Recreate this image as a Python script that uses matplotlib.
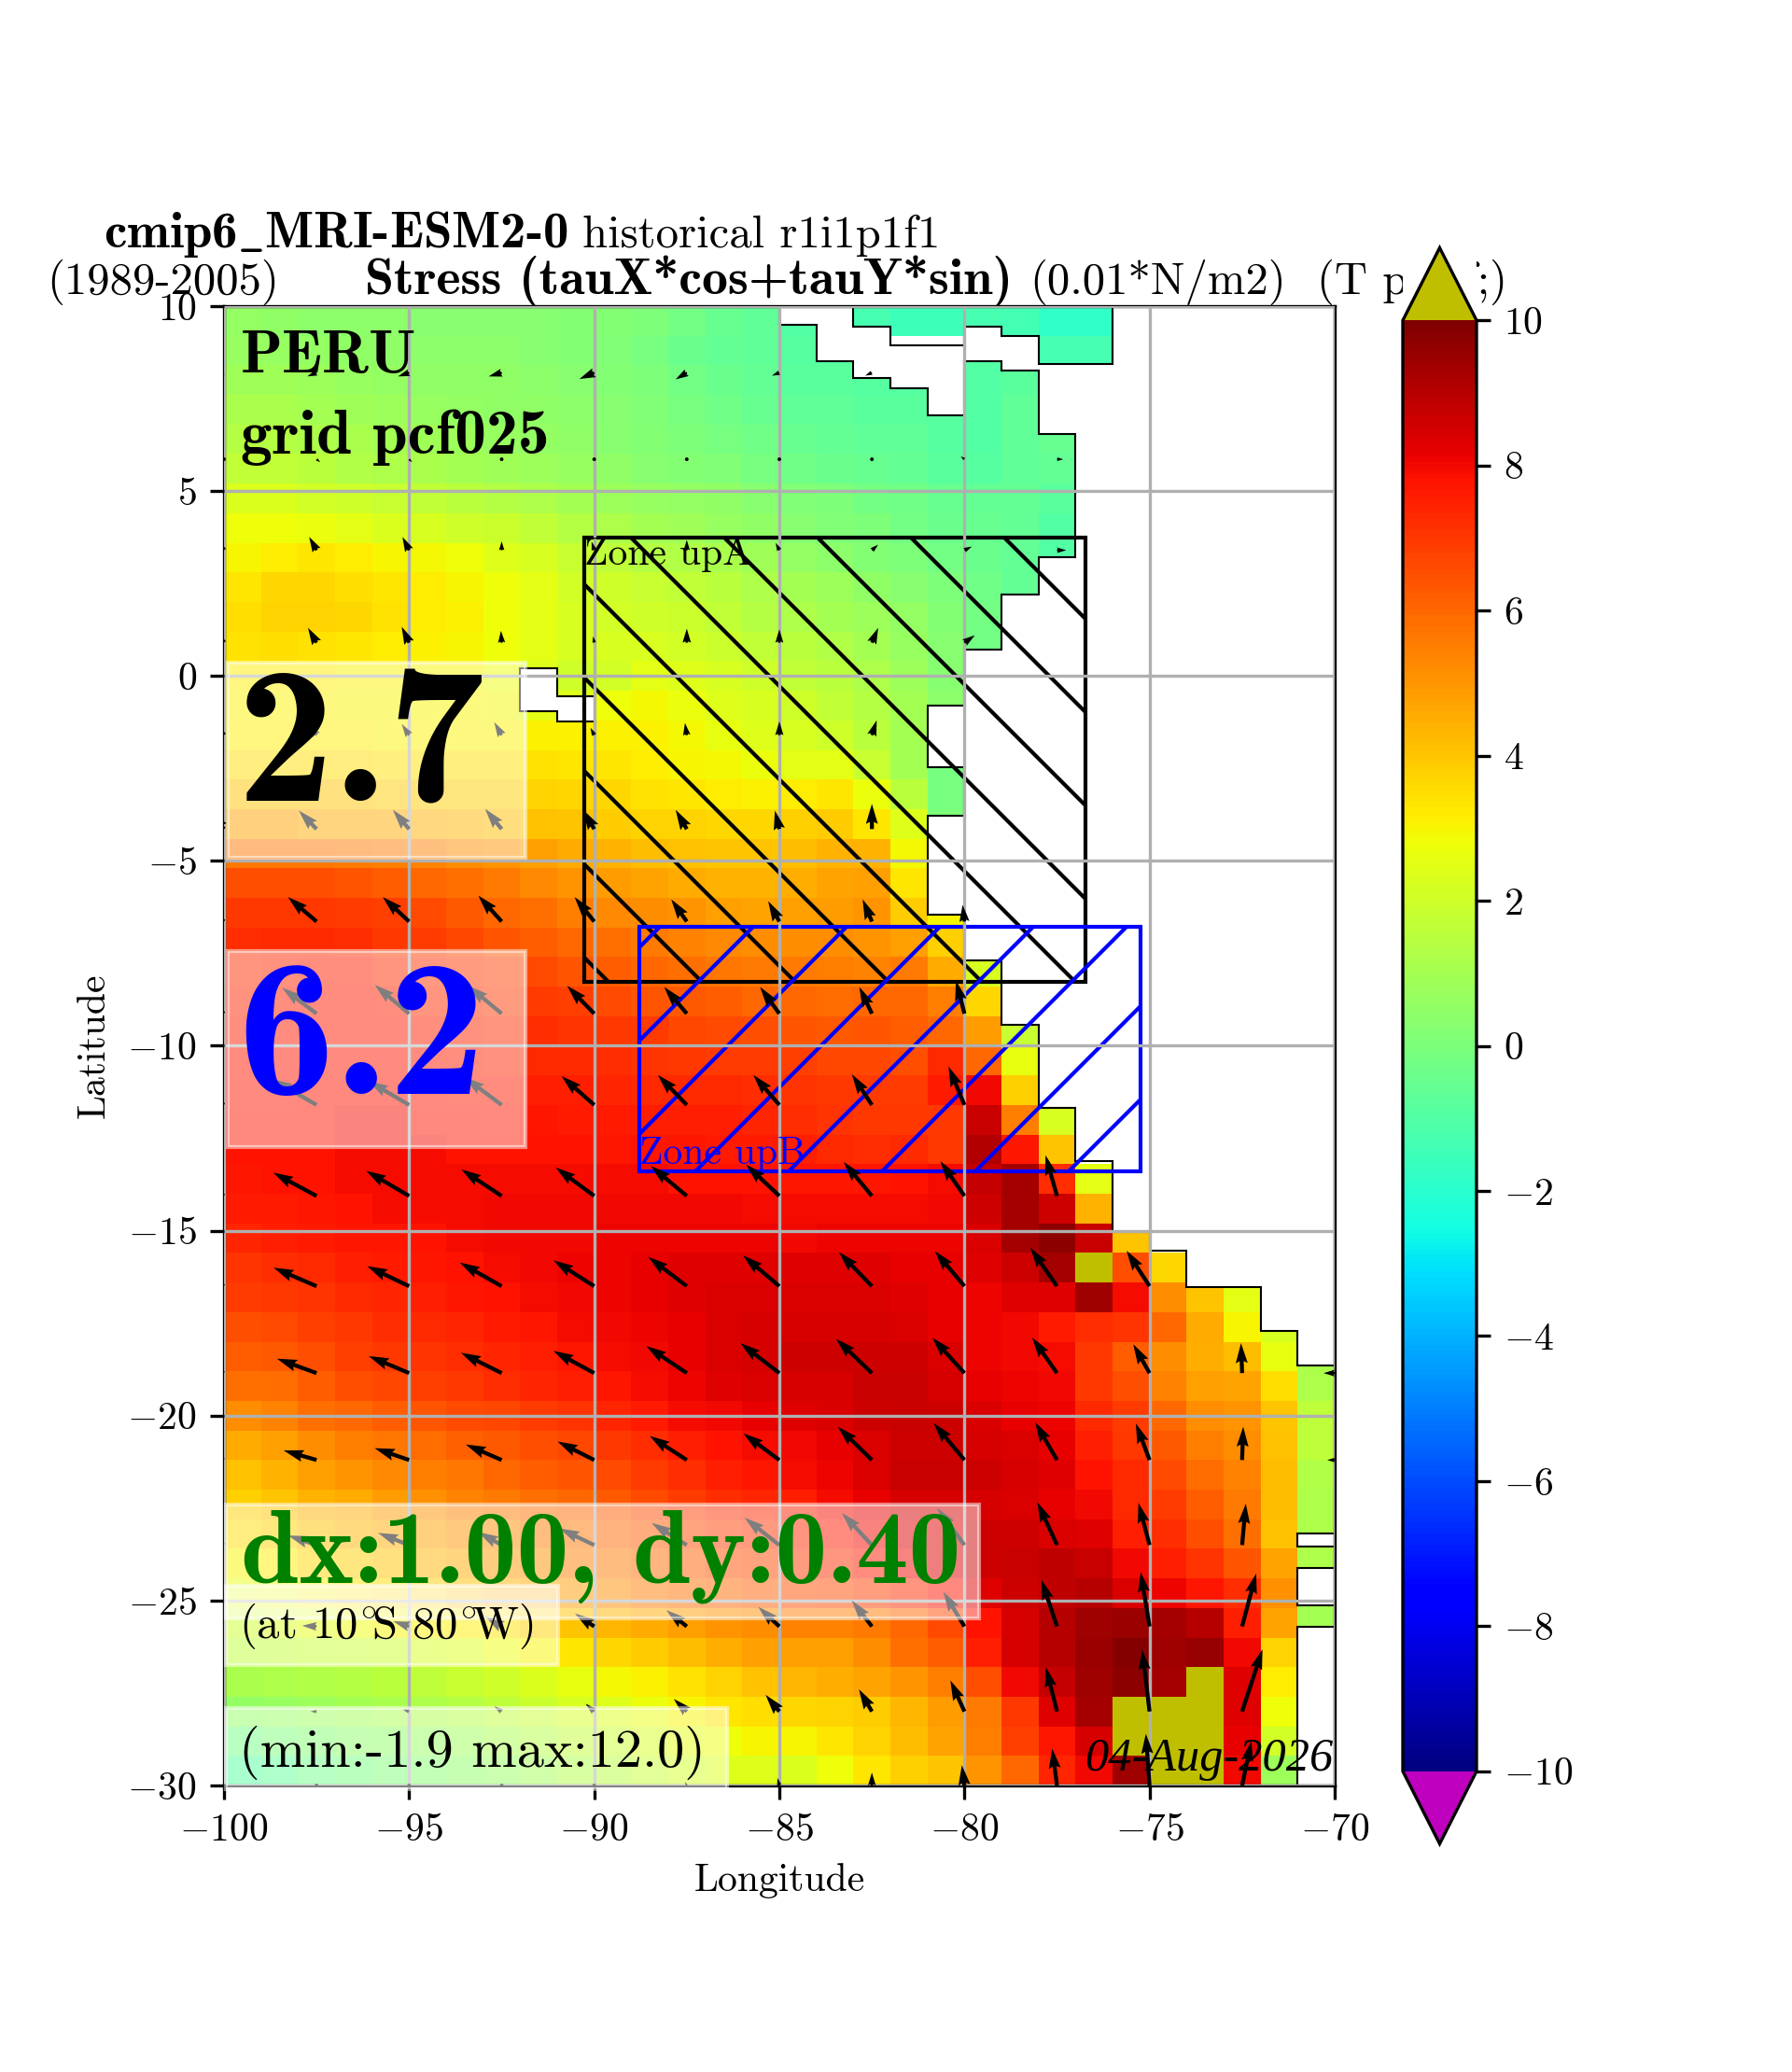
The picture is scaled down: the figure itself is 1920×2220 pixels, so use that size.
import numpy as np
import matplotlib
matplotlib.use("Agg")
import matplotlib.pyplot as plt
from matplotlib.patches import Polygon, Rectangle

plt.rcParams['font.family'] = ['cmr10', 'DejaVu Sans']
plt.rcParams['mathtext.fontset'] = 'cm'
plt.rcParams['axes.formatter.use_mathtext'] = True
plt.rcParams['axes.unicode_minus'] = True

n = np.nan
lon_edges = np.arange(-100, -69, 1.0)
lat_edges = np.arange(10, -30.4, -0.8)

stress = [
[.6,.5,.4,.4,.4,.3,.3,.3,.3,.2,.2,0,-.2,-.5,-.7,-1,n,-1.3,-1.5,-1.5,-1.3,-1.4,-1.8,-1.8,n,n,n,n,n,n],
[.7,.7,.6,.5,.5,.4,.4,.4,.3,.2,.1,-.1,-.4,-.6,-.7,-.9,-.9,n,n,n,-1,-.8,-1.3,-1.3,n,n,n,n,n,n],
[.9,.9,.8,.7,.6,.5,.5,.5,.4,.3,.2,0,-.2,-.4,-.6,-.8,-.8,-.9,-.9,-1,-1,-.8,n,n,n,n,n,n,n,n],
[1.1,1.1,1,.9,.8,.7,.6,.5,.5,.4,.3,.1,-.1,-.3,-.5,-.7,-.7,-.8,-.8,-.9,-1,-.7,n,n,n,n,n,n,n,n],
[1.4,1.4,1.2,1.1,1,.9,.8,.7,.6,.5,.3,.2,0,-.1,-.3,-.5,-.6,-.7,-.7,-.9,-1,-.7,-.5,n,n,n,n,n,n,n],
[1.7,1.7,1.5,1.3,1.2,1.1,1,.9,.8,.7,.5,.3,.2,.1,-.1,-.3,-.4,-.5,-.6,-.8,-.9,-.7,-.6,n,n,n,n,n,n,n],
[2.3,2.3,2.1,2,1.8,1.7,1.5,1.4,1.2,1,.8,.7,.6,.5,.3,.1,0,-.2,-.3,-.5,-.6,-.6,-.8,n,n,n,n,n,n,n],
[2.8,2.8,2.7,2.5,2.3,2.2,2,1.9,1.7,1.4,1.2,1,.9,.7,.5,.3,.1,0,-.2,-.4,-.5,-.6,-1,n,n,n,n,n,n,n],
[3,3.2,3.3,3.2,3,2.9,2.8,2.4,2.2,1.8,1.6,1.4,1.3,1.1,.9,.6,.4,.2,0,-.2,-.4,-.6,-1,n,n,n,n,n,n,n],
[3.3,3.6,3.6,3.5,3.3,3.2,3,2.8,2.5,2.1,2,1.8,1.7,1.5,1.2,1,.8,.5,.3,0,-.3,-.6,n,n,n,n,n,n,n,n],
[3.5,3.7,3.7,3.6,3.4,3.2,3.1,2.8,2.5,2.2,2.1,2,1.9,1.7,1.4,1.2,1,.8,.6,.2,-.2,-.6,n,n,n,n,n,n,n,n],
[3.4,3.5,3.4,3.3,3.2,3.1,3,2.8,2.5,2.2,2.2,2.2,2.1,1.9,1.7,1.5,1.3,1,.7,.3,-.2,n,n,n,n,n,n,n,n,n],
[3.2,3.2,3.2,3.1,3.1,3,3,2.8,2.4,2,2.1,2.5,2.4,2.2,2,1.7,1.5,1.2,.8,.3,n,n,n,n,n,n,n,n,n,n],
[3.1,3.1,3.1,3,3,3,3,2.9,2.5,2.4,2.8,2.9,2.7,2.4,2.2,2,1.7,1.4,1,.4,n,n,n,n,n,n,n,n,n,n],
[3.2,3.2,3.2,3.2,3.1,3.1,3.1,3.1,3.1,3.1,3.1,3.1,2.9,2.6,2.4,2.2,2,1.5,1,n,n,n,n,n,n,n,n,n,n,n],
[3.5,3.5,3.5,3.5,3.4,3.4,3.4,3.4,3.4,3.3,3.3,3.2,3,2.9,2.7,2.5,2.5,1.8,1,-.1,n,n,n,n,n,n,n,n,n,n],
[4,4,4,4,3.9,3.9,3.8,3.8,3.7,3.6,3.6,3.4,3.3,3.2,3.1,3.2,3.3,2.7,1.5,-.1,n,n,n,n,n,n,n,n,n,n],
[4.7,4.7,4.6,4.6,4.5,4.4,4.3,4.2,4.1,4,3.9,3.7,3.7,3.6,3.6,3.8,3.9,3.3,2.4,0,n,n,n,n,n,n,n,n,n,n],
[5.7,5.7,5.7,5.6,5.5,5.4,5.2,5,4.8,4.6,4.4,4.2,4.1,4,4,4.2,4.4,4.4,2.9,n,n,n,n,n,n,n,n,n,n,n],
[6.5,6.5,6.5,6.4,6.2,6,5.8,5.6,5.3,5,4.9,4.7,4.6,4.4,4.4,4.5,4.7,4.8,3.3,n,n,n,n,n,n,n,n,n,n,n],
[7,7,7,6.9,6.8,6.6,6.3,6,5.8,5.5,5.3,5.2,5,4.8,4.7,4.8,4.9,5,3.9,3,n,n,n,n,n,n,n,n,n,n],
[7.2,7.3,7.3,7.2,7,6.9,6.7,6.4,6.2,6,5.8,5.6,5.4,5.3,5.2,5.2,5.2,5,4.8,3.8,n,n,n,n,n,n,n,n,n,n],
[7.3,7.4,7.5,7.5,7.3,7.1,7,6.8,6.6,6.4,6.2,6,5.8,5.7,5.6,5.6,5.5,5.4,5.6,4.6,2.2,n,n,n,n,n,n,n,n,n],
[7.4,7.5,7.6,7.6,7.5,7.3,7.2,7,6.9,6.8,6.6,6.4,6.3,6.2,6,6,5.9,6,6,5.5,3.6,n,n,n,n,n,n,n,n,n],
[7.5,7.6,7.6,7.6,7.6,7.5,7.4,7.3,7.2,7.1,7,6.9,6.7,6.6,6.5,6.4,6.3,6.4,6.2,6,4.9,1.8,n,n,n,n,n,n,n,n],
[7.6,7.7,7.7,7.7,7.7,7.6,7.5,7.4,7.3,7.3,7.2,7.1,7,6.9,6.9,6.8,6.7,6.7,6.5,7.3,6,2.6,n,n,n,n,n,n,n,n],
[7.7,7.7,7.8,7.8,7.8,7.7,7.6,7.6,7.5,7.5,7.4,7.3,7.3,7.3,7.2,7.1,7,6.9,6.9,7.6,8,3.8,n,n,n,n,n,n,n,n],
[7.8,7.8,7.8,7.9,7.9,7.8,7.8,7.7,7.7,7.6,7.6,7.5,7.5,7.5,7.4,7.2,7.1,7,7,7,8.7,5.5,2.2,n,n,n,n,n,n,n],
[7.8,7.8,7.8,7.9,7.9,7.9,7.8,7.8,7.8,7.8,7.7,7.7,7.7,7.6,7.6,7.5,7.3,7.2,7.3,7,9.1,7.7,4,n,n,n,n,n,n,n],
[7.7,7.8,7.8,7.9,7.9,7.9,7.9,7.9,7.9,7.9,7.9,7.9,7.8,7.8,7.8,7.7,7.7,7.7,7.8,7.9,8.8,9.3,7.2,2.5,n,n,n,n,n,n],
[7.6,7.6,7.7,7.8,7.9,7.9,7.9,8,8,8,8,8,8,8,7.9,7.9,7.9,7.9,7.9,8,8.6,9.3,8.6,4.4,n,n,n,n,n,n],
[7.4,7.5,7.6,7.7,7.7,7.8,7.9,8,8,8,8.1,8.1,8.1,8.1,8.1,8,8.1,8.1,8.1,8.1,8.4,9.3,9.7,8.7,4,n,n,n,n,n],
[7.1,7.2,7.3,7.5,7.6,7.7,7.8,7.9,8,8.1,8.1,8.2,8.3,8.3,8.3,8.3,8.3,8.3,8.2,8.2,8.3,8.6,9.3,10.5,6.5,3.6,n,n,n,n],
[6.9,7,7.1,7.3,7.4,7.5,7.7,7.8,7.9,8,8.1,8.2,8.3,8.4,8.4,8.4,8.4,8.4,8.3,8.2,8.1,8.3,8.3,9.4,7.9,5.2,4,2.5,n,n],
[6.5,6.6,6.8,7,7.2,7.3,7.4,7.6,7.7,7.9,8,8.1,8.2,8.4,8.5,8.5,8.5,8.5,8.4,8.2,8.1,8,7.6,7.2,7.1,6,4.6,3,2.2,n],
[6.2,6.3,6.5,6.8,7,7.1,7.2,7.4,7.5,7.7,7.9,8,8.2,8.4,8.5,8.6,8.6,8.6,8.6,8.4,8.1,8,7.9,7,6.2,5.2,4.5,4.2,2.6,1.1],
[5.8,5.9,6.2,6.5,6.7,6.8,7,7.2,7.4,7.5,7.7,7.9,8.1,8.3,8.4,8.5,8.5,8.7,8.7,8.5,8.2,8.1,8,7,6.5,5.4,4.8,4.7,3.5,1.2],
[5.2,5.4,5.8,6,6.2,6.4,6.6,6.7,6.9,7.1,7.4,7.6,7.9,8,8.2,8.3,8.4,8.6,8.7,8.6,8.4,8.2,8.1,7.3,6.9,6,5.2,5,4,1.6],
[4.6,4.8,5.2,5.5,5.7,5.9,6.1,6.3,6.5,6.7,7,7.2,7.5,7.8,7.9,8,8.2,8.4,8.6,8.6,8.5,8.4,8.2,7.5,7,6.3,5.5,5.2,4.1,1.6],
[4.1,4.4,4.8,5,5.3,5.5,5.7,6,6.2,6.4,6.6,6.9,7.2,7.5,7.7,7.9,8.1,8.4,8.7,8.7,8.6,8.5,8.3,7.8,7.3,6.6,5.9,5.4,4.2,1.3],
[3.8,4,4.4,4.6,4.9,5.1,5.4,5.6,5.8,6,6.3,6.6,6.9,7.2,7.4,7.5,7.9,8.2,8.5,8.5,8.5,8.4,8.2,8,7.3,6.9,6.2,5.6,4.2,1.2],
[3.5,3.7,4.1,4.3,4.5,4.7,5,5.2,5.5,5.7,6,6.3,6.6,6.9,7.1,7.3,7.6,8,8.3,8.3,8.6,8.6,8.4,8.3,7.5,7.2,6.5,5.8,4.1,1.2],
[3,3.2,3.6,3.8,4,4.3,4.6,4.9,5.1,5.4,5.6,5.9,6.2,6.5,6.7,7,7.2,7.6,8,8.3,8.6,8.7,8.9,8.7,8,7.5,7.1,6.4,4.7,1.2],
[2.6,2.8,3.1,3.3,3.5,3.8,4.1,4.4,4.6,4.9,5.2,5.5,5.8,6,6.2,6.5,6.6,6.9,7.3,7.8,8.3,8.6,8.9,9,8.4,8.1,7.7,7.2,5.1,1],
[2,2.2,2.5,2.8,3,3.1,3.2,3.4,3.7,4,4.3,4.6,4.8,5,5.2,5.4,5.4,5.6,6,6.6,7.8,8.5,9,9.4,9.5,9.3,9,7.5,4.7,1],
[1.6,1.7,1.8,1.9,2,2.2,2.4,2.8,3,3.3,3.6,3.9,4.2,4.5,4.8,4.8,4.8,5.2,5.8,6.2,7.5,8.5,9,9.5,9.9,9.4,9.6,8,3.7,.8],
[1.1,1.2,1.3,1.4,1.5,1.6,1.8,2,2.3,2.6,2.9,3.1,3.4,3.7,4.1,4.3,4.5,4.7,5,5.5,6.5,8,8.8,9.4,9.7,9.3,10.5,8.3,3.2,n],
[.6,.7,.8,1,1.1,1.2,1.4,1.6,1.9,2.2,2.4,2.7,3,3.3,3.5,3.6,3.7,3.9,4.3,4.9,5.6,7,8.3,9.3,10.5,10.5,10.5,8.3,2.8,n],
[-.2,0,.2,.4,.5,.7,.9,1.1,1.4,1.7,1.9,2.2,2.5,2.8,3,3,3.3,3.7,4.2,4.7,5.5,6.8,7.7,8.5,10.5,10.5,10.5,8.2,2.1,n],
[-.9,-.7,-.3,-.1,.1,.3,.5,.7,1,1.3,1.5,1.8,2.1,2.4,2.4,2.3,2.8,3.3,3.8,4,5,6,7.4,8,9.4,10.5,10.5,8,.8,n],
]

# wind stress vectors, drawn from a tail at (arrow_lon, arrow_lat), one row per latitude
arrow_lon = [-100, -97.5, -95, -92.5, -90, -87.5, -85, -82.5, -80, -77.5, -75, -72.5, -70]
arrow_lat = [8.2, 5.86, 3.4, .9, -1.6, -4.14, -6.64, -9.13, -11.6, -14.06, -16.5, -18.85, -21.2, -23.5, -25.7, -28, -30]
arrow_u = [
[-.2,-.25,-.3,-.35,-.4,-.3,-.2,-.18,n,n,n,n,n],
[0,.1,.08,0,0,0,0,0,-.1,.17,n,n,n],
[-.1,-.2,-.18,0,-.07,0,-.1,.17,.2,.25,n,n,n],
[-.1,-.23,-.2,-.02,-.03,0,0,.17,.28,n,n,n,n],
[-.1,-.2,-.2,-.2,-.1,-.05,0,.13,n,n,n,n,n],
[-.4,-.48,-.44,-.45,-.3,-.3,-.12,0,n,n,n,n,n],
[-.8,-.77,-.71,-.63,-.53,-.42,-.3,-.25,-.05,n,n,n,n],
[-.9,-.93,-.93,-.9,-.73,-.61,-.52,-.34,-.23,n,n,n,n],
[-1.2,-1.2,-1.1,-1,-.88,-.78,-.7,-.54,-.43,n,n,n,n],
[-1.2,-1.17,-1.16,-1.09,-1.04,-.97,-.9,-.76,-.65,-.31,n,n,n],
[-1.1,-1.16,-1.13,-1.13,-1.1,-1.04,-.98,-.89,-.8,-.72,-.62,n,n],
[-1,-1.07,-1.09,-1.1,-1.1,-1.09,-1.05,-.97,-.87,-.67,-.44,-.03,-.3],
[-.85,-.89,-.93,-.97,-.99,-1,-.97,-.92,-.83,-.59,-.37,.03,-.2],
[-.7,-.77,-.84,-.63,-.94,-.95,-.94,-.81,-.73,-.53,-.3,.1,n],
[-.35,-.39,-.43,-.45,-.52,-.55,-.57,-.54,-.57,-.42,-.24,.38,n],
[-.14,-.16,-.18,-.2,-.23,-.35,-.37,-.35,-.38,-.3,-.2,.55,n],
[0,0,0,0,0,-.05,-.05,0,-.07,-.13,-.1,.25,n],
]
arrow_v = [
[-.05,-.1,-.1,-.1,-.17,-.18,-.08,-.08,n,n,n,n,n],
[0,-.08,-.08,0,0,0,0,0,.08,0,n,n,n],
[.2,.36,.36,.24,.23,.28,.2,.15,.1,0,n,n,n],
[.2,.4,.43,.32,.17,.38,.36,.4,.2,n,n,n,n],
[.2,.3,.3,.35,.2,.33,.37,.4,n,n,n,n,n],
[.45,.5,.52,.55,.52,.52,.5,.68,n,n,n,n,n],
[.65,.66,.66,.7,.66,.6,.55,.6,.45,n,n,n,n],
[.7,.7,.78,.75,.75,.72,.72,.72,.89,n,n,n,n],
[.68,.7,.65,.75,.78,.81,.81,.83,1.04,n,n,n,n],
[.6,.63,.68,.72,.77,.81,.85,.92,.94,1.1,n,n,n],
[.48,.5,.54,.64,.7,.79,.83,.92,.95,1.04,.96,n,n],
[.36,.39,.46,.55,.6,.73,.81,.93,.96,.96,.78,.81,0],
[.22,.26,.32,.42,.5,.65,.72,.9,1,1.02,.99,.9,0],
[.2,.26,.33,.35,.45,.6,.74,.87,1,1.16,1.14,1.12,n],
[0,.02,.14,.28,.35,.44,.53,.7,.94,1.26,1.47,1.43,n],
[0,0,.06,.14,.21,.34,.45,.6,.84,1.2,1.67,1.68,n],
[.1,0,.05,.05,.05,.1,.2,.35,.55,1,1.4,1.2,n],
]

# land outlines (lon, lat)
land_main_lon = [-85,-85,-84,-84,-83,-83,-82,-82,-81,-81,-80,-80,-79,-79,-78,-78,-77,-77,-78,-78,-79,-79,-80,-80,-81,-81,-80,-80,-81,-81,-80,-80,-79,-79,-78,-78,-77,-77,-76,-76,-75,-75,-74,-74,-72,-72,-71,-71,-70,-70,-76,-76,-78,-78,-79,-79,-80,-80,-82,-82,-83,-83]
land_main_lat = [10,9.5,9.5,8.52,8.52,8.05,8.05,7.79,7.79,7.05,7.05,8.52,8.52,8.25,8.25,6.54,6.54,3.22,3.22,2.2,2.2,.72,.72,-.79,-.79,-2.46,-2.46,-3.79,-3.79,-6.46,-6.46,-7.69,-7.69,-9.43,-9.43,-11.67,-11.67,-13.12,-13.12,-15.03,-15.03,-15.55,-15.55,-16.53,-16.53,-17.72,-17.72,-18.65,-18.65,10,10,8.44,8.44,9.2,9.2,9.45,9.45,8.95,8.95,9.45,9.45,10]
island_lon = [-92,-91,-91,-90,-90,-91,-91,-92]
island_lat = [.2,.2,-.56,-.56,-1.22,-1.22,-.96,-.96]
chile_lon = [[-71,-70,-70,-71],[-71,-70,-70,-71],[-71,-70,-70,-71]]
chile_lat = [[-23.19,-23.19,-23.55,-23.55],[-24.11,-24.11,-25.13,-25.13],[-25.71,-25.71,-30,-30]]

zone_a = (-90.27, -8.26, -76.73, 3.75)
zone_b = (-88.77, -13.4, -75.24, -6.78)

fig = plt.figure(figsize=(6.4, 7.4), dpi=300)
ax = fig.add_axes([240/1920, 1-1913/2220, 1190/1920, 1585/2220], zorder=0)

cmap = plt.get_cmap('jet').copy()
cmap.set_over('y')
cmap.set_under('m')
field = np.ma.masked_invalid(np.array(stress))
mesh = ax.pcolormesh(lon_edges, lat_edges, field, cmap=cmap, vmin=-10, vmax=10, zorder=0.5)

poly_kw = dict(closed=True, facecolor='white', edgecolor='black', linewidth=0.5, zorder=0.8)
ax.add_patch(Polygon(np.column_stack([land_main_lon, land_main_lat]), **poly_kw))
ax.add_patch(Polygon(np.column_stack([island_lon, island_lat]), **poly_kw))
for xs, ys in zip(chile_lon, chile_lat):
    ax.add_patch(Polygon(np.column_stack([xs, ys]), **poly_kw))

for (x0, y0, x1, y1), col, hatch in [(zone_a, 'black', '\\'), (zone_b, 'blue', '/')]:
    ax.add_patch(Rectangle((x0, y0), x1-x0, y1-y0, fill=False, edgecolor=col, hatch=hatch, linewidth=1.0, zorder=1.5))

ax.set_xlim(-100, -70)
ax.set_ylim(-30, 10)
ax.set_xticks(np.arange(-100, -69, 5))
ax.set_yticks(np.arange(-30, 11, 5))
ax.grid(True, zorder=2)
ax.set_axisbelow(False)
ax.set_xlabel('Longitude')
ax.set_ylabel('Latitude')

X, Y = np.meshgrid(arrow_lon, arrow_lat)
ax.quiver(X, Y, np.ma.masked_invalid(arrow_u), np.ma.masked_invalid(arrow_v),
          angles='xy', scale_units='xy', scale=1, pivot='tail', zorder=3, width=0.0036)

def boxed(x0, x1, y0, y1, z):
    ax.add_patch(Rectangle((x0, y0), x1-x0, y1-y0, facecolor='white', edgecolor='white',
                           alpha=0.5, linewidth=1.0, zorder=z, clip_on=False))

ax.text(-99.55, 8.2, 'PERU', family='cmb10', fontsize=15.8, zorder=4)
ax.text(-99.55, 6.0, 'grid pcf025', family='cmb10', fontsize=16.2, zorder=4)
boxed(-99.9, -91.86, -4.92, .37, 5)
ax.text(-99.65, -3.4, '2.7', family='cmb10', fontsize=50, color='black', zorder=5.1)
boxed(-99.9, -91.86, -12.75, -7.45, 5)
ax.text(-99.65, -11.3, '6.2', family='cmb10', fontsize=50, color='blue', zorder=5.1)
boxed(-99.95, -79.6, -25.48, -22.4, 5.2)
ax.text(-99.55, -24.5, 'dx:1.00, dy:0.40', family='cmb10', fontsize=26.9, color='green', zorder=5.3)
boxed(-99.95, -90.97, -26.74, -24.6, 5.4)
ax.text(-99.6, -26, r'(at 10$^{\!\circ}\!\!$S 80$^{\!\circ}\!\!$W)', fontsize=11.7, zorder=5.5)
boxed(-99.95, -86.4, -30.1, -27.9, 5.6)
ax.text(-99.6, -29.5, '(min:-1.9 max:12.0)', fontsize=14, zorder=5.7)
ax.text(-70.05, -29.6, '04-Aug-2026', family='Liberation Serif', style='italic', fontsize=12.1, ha='right', zorder=6)
ax.text(-90.27, 3.0, 'Zone upA', fontsize=10, color='black', zorder=4)
ax.text(-88.77, -13.2, 'Zone upB', fontsize=10, color='blue', zorder=4)

def head(px, py, s, fam, fs):
    ax.text(px/1920, 1-py/2220, s, transform=fig.transFigure, family=fam, fontsize=fs, clip_on=False, zorder=1)
head(111, 265, r'cmip6$\_$MRI-ESM2-0', 'cmb10', 13.2)
head(624, 265, 'historical r1i1p1f1', 'cmr10', 11.7)
head(50, 315, '(1989-2005)', 'cmr10', 11.7)
head(391, 315, 'Stress (tauX*cos+tauY*sin)', 'cmb10', 13.4)
head(1103, 315, '(0.01*N/m2)', 'cmr10', 11.7)
head(1411, 315, '(T pacif;)', 'cmr10', 11.7)

cover = fig.add_axes([1503/1920, 1-1975.5/2220, 79/1920, 1710/2220], zorder=1)
cover.set_xticks([]); cover.set_yticks([])
for s in cover.spines.values():
    s.set_visible(False)

cax = fig.add_axes([1503/1920, 1-1975.5/2220, 79/1920, 1710/2220], zorder=2)
cb = fig.colorbar(mesh, cax=cax, extend='both', ticks=np.arange(-10, 11, 2))

fig.savefig('out.png', dpi=300)
